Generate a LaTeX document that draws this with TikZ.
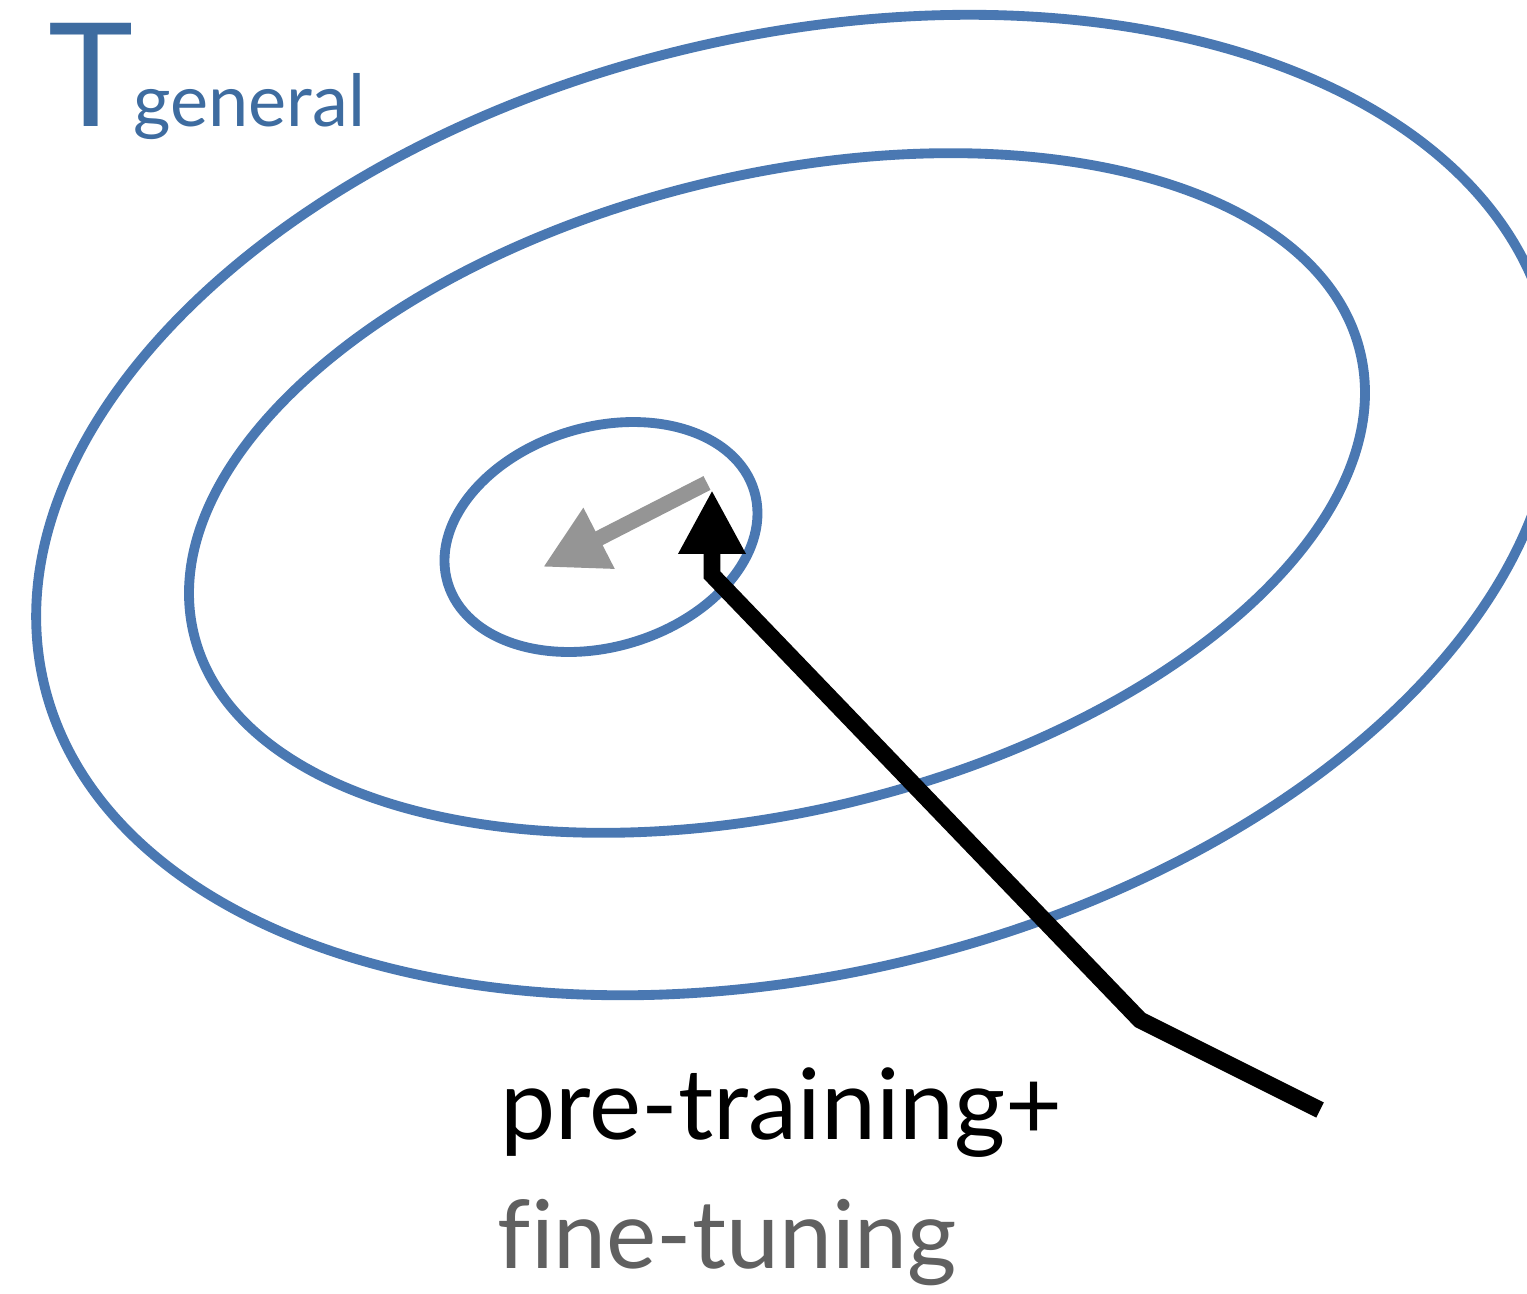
\documentclass[tikz,border=0pt]{standalone}
\usepackage{fontspec}
\setmainfont{Lato}[Ligatures=NoCommon]
\usetikzlibrary{arrows.meta}
\definecolor{ringblue}{RGB}{74,120,178}
\definecolor{labelblue}{RGB}{62,108,160}
\definecolor{tunegray}{RGB}{149,149,149}
\definecolor{textgray}{RGB}{96,96,96}

\begin{document}
\begin{tikzpicture}[
  ring/.style={draw=ringblue, line width=2.8pt},
  pretrain/.style={line width=4.8pt, -{Triangle[length=6.4mm, width=6.3mm]}},
  finetune/.style={draw=tunegray, line width=4.4pt, -{Triangle[length=6.3mm, width=6.4mm]}},
  lbl/.style={anchor=base west, inner sep=0pt}
]
\useasboundingbox (0,0) rectangle (15.27,12.93);
% contour rings
\coordinate (c1) at (7.96,7.88);
\coordinate (c2) at (7.77,8.00);
\coordinate (c3) at (6.01,7.56);
\draw[ring, rotate around={13.4:(c1)}] (c1) ellipse [x radius=7.73cm, y radius=4.69cm];
\draw[ring, rotate around={13.6:(c2)}] (c2) ellipse [x radius=6.00cm, y radius=3.18cm];
\draw[ring, rotate around={16.7:(c3)}] (c3) ellipse [x radius=1.60cm, y radius=1.10cm];
% labels
\node[lbl, font=\fontsize{41}{41}\selectfont, text=labelblue] (tsym) at (0.48,11.66) {T};
\node[lbl, font=\fontsize{20.5}{20.5}\selectfont, text=labelblue] (tsub) at (1.33,11.66) {general};
\node[lbl, font=\fontsize{28}{28}\selectfont] (pre) at (5.00,1.53) {pre-training+};
\node[lbl, font=\fontsize{27}{27}\selectfont, text=textgray] (fine) at (4.97,0.25) {fine-tuning};
% arrows
\coordinate (start) at (13.20,1.83);
\coordinate (bend) at (11.40,2.73);
\coordinate (turn) at (7.12,7.18);
\coordinate (tip) at (7.12,8.03);
\coordinate (ftstart) at (7.07,8.10);
\coordinate (fttip) at (5.43,7.26);
\draw[finetune] (ftstart) -- (fttip);
\draw[pretrain] (start) -- (bend) -- (turn) -- (tip);
\end{tikzpicture}
\end{document}
